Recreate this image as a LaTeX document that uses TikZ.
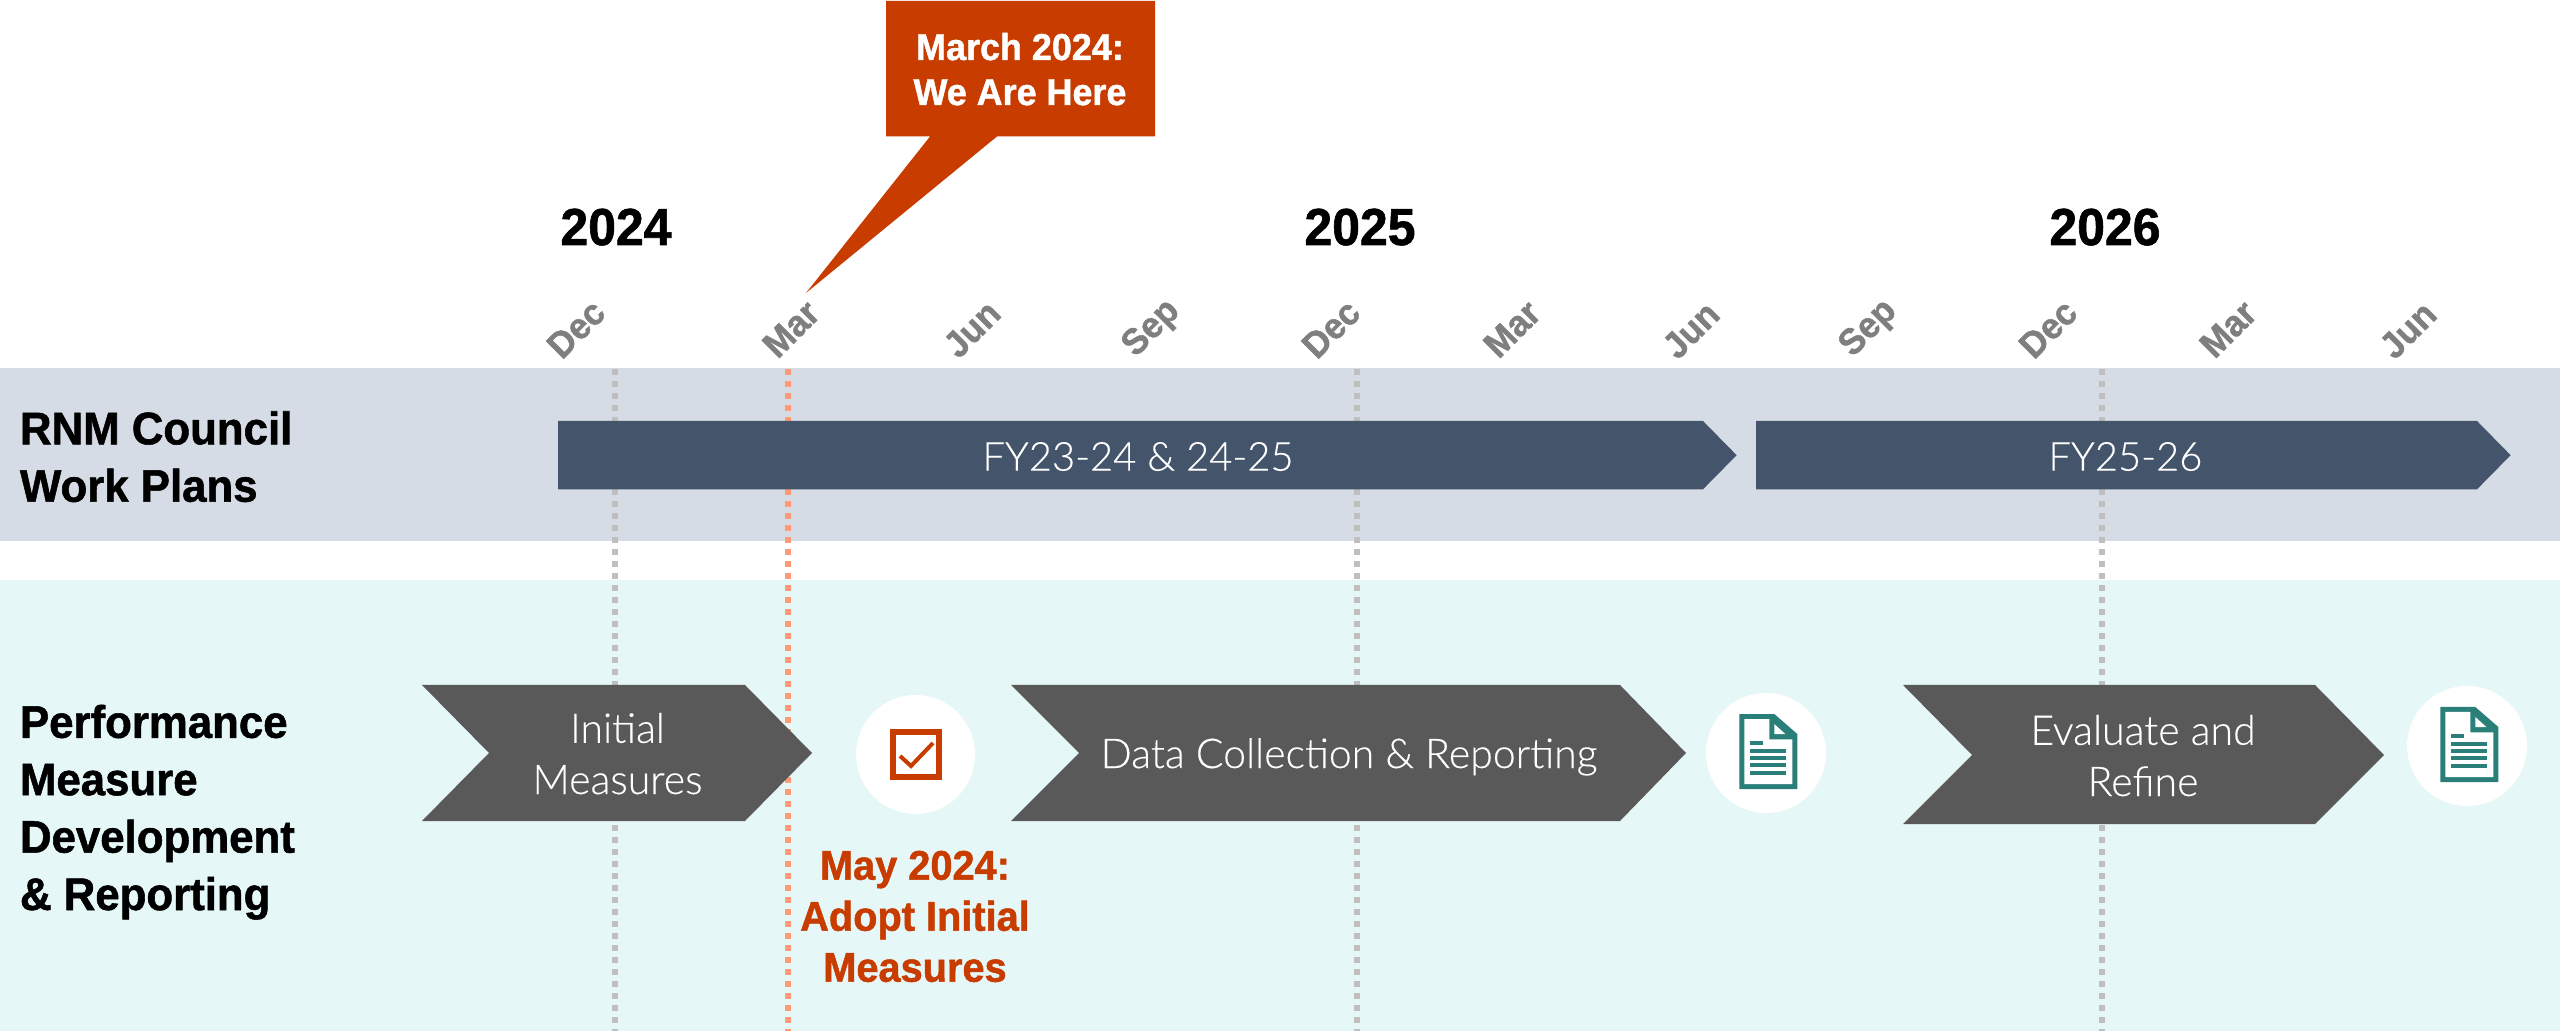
\documentclass[tikz,border=0pt]{standalone}
\usepackage{fontspec}
\setmainfont{Lato}[UprightFont={Lato Light},UprightFeatures={FakeBold=0.25},BoldFont={Lato}]
\newfontfamily\headfam{Liberation Sans}[FakeStretch=0.96,BoldFeatures={FakeStretch=0.96,FakeBold=1.2}]
\definecolor{bandblue}{HTML}{D6DCE5}
\definecolor{bandteal}{HTML}{E5F7F7}
\definecolor{fyblue}{HTML}{44546A}
\definecolor{chevgrey}{HTML}{595959}
\definecolor{rust}{HTML}{C83C00}
\definecolor{icon}{HTML}{2A7F79}
\definecolor{dashgrey}{HTML}{BFBFBF}
\definecolor{dashrust}{HTML}{FF9A75}
\definecolor{monthgrey}{HTML}{7F7F7F}
\tikzset{
  x=0.5pt,y=-0.5pt,
  lbl/.style={inner sep=0pt,outer sep=0pt},
  sectionlbl/.style={lbl,anchor=base west,align=left,font=\headfam\bfseries\fontsize{22.8}{28.7}\selectfont,text=black},
  yearlbl/.style={lbl,anchor=base,font=\headfam\bfseries\fontsize{26}{30}\selectfont,text=black},
  monthlbl/.style={lbl,rotate=45,font=\headfam\bfseries\fontsize{18.2}{20}\selectfont,text=monthgrey},
  bartext/.style={lbl,anchor=base,font=\fontsize{20}{24}\selectfont,text=white},
  chevtext/.style={lbl,anchor=base,align=center,font=\fontsize{20.5}{25.6}\selectfont,text=white},
  guide/.style={line width=2.8pt,dash pattern=on 3pt off 3pt,dash phase=0pt},
  docicon/.pic={
    \fill[icon] (0,0)--(35,0)--(58,20)--(58,75)--(0,75)--cycle;
    \fill[white] (5,5)--(30,5)--(30,25.3)--(53,25.3)--(53,70)--(5,70)--cycle;
    \fill[white] (35,10)--(35,20)--(46,20)--cycle;
    \fill[icon] (10.7,26.7) rectangle (24,30.7);
    \fill[icon] (10.7,34.7) rectangle (46.7,38.7);
    \fill[icon] (10.7,41.7) rectangle (46.7,45.7);
    \fill[icon] (10.7,49.3) rectangle (46.7,53.3);
    \fill[icon] (10.7,56.7) rectangle (46.7,60.7);
  }
}
\begin{document}
\begin{tikzpicture}
\useasboundingbox (0,0) rectangle (2560,1031);
% bands
\fill[bandblue] (0,368) rectangle (2560,541.5);
\fill[bandteal] (0,580.5) rectangle (2560,1031);
% guides
\coordinate (g1t) at (615,369); \coordinate (g1b) at (615,1031);
\coordinate (g2t) at (788,369); \coordinate (g2b) at (788,1031);
\coordinate (g3t) at (1357,369); \coordinate (g3b) at (1357,1031);
\coordinate (g4t) at (2102,369); \coordinate (g4b) at (2102,1031);
\draw[guide,dashgrey] (g1t)--(g1b);
\draw[guide,dashrust] (g2t)--(g2b);
\draw[guide,dashgrey] (g3t)--(g3b);
\draw[guide,dashgrey] (g4t)--(g4b);
% callout
\fill[rust] (886,1)--(1155,1)--(1155,136.5)--(997,136.5)--(806,293)--(930,136.5)--(886,136.5)--cycle;
\node[lbl,anchor=base,align=center,text=white,font=\headfam\bfseries\fontsize{18.7}{22.5}\selectfont] (callout) at (1020,105) {March 2024:\\We Are Here};
% years
\node[yearlbl] (y24) at (616,245) {2024};
\node[yearlbl] (y25) at (1360,245) {2025};
\node[yearlbl] (y26) at (2105,245) {2026};
% months
\node[monthlbl] (m1) at (576,329) {Dec};
\node[monthlbl] (m2) at (791,329) {Mar};
\node[monthlbl] (m3) at (972,329) {Jun};
\node[monthlbl] (m4) at (1152,329) {Sep};
\node[monthlbl] (m5) at (1331,329) {Dec};
\node[monthlbl] (m6) at (1512,329) {Mar};
\node[monthlbl] (m7) at (1691,330) {Jun};
\node[monthlbl] (m8) at (1869,329) {Sep};
\node[monthlbl] (m9) at (2048,329) {Dec};
\node[monthlbl] (m10) at (2228,329) {Mar};
\node[monthlbl] (m11) at (2408,330) {Jun};
% section labels
\node[sectionlbl] (rnm) at (20,501.7) {RNM Council\\Work Plans};
\node[sectionlbl] (perf) at (20,910) {Performance\\Measure\\Development\\\& Reporting};
% FY bars
\fill[fyblue] (558,421)--(1703,421)--(1736.6,455.2)--(1703,489.3)--(558,489.3)--cycle;
\fill[fyblue] (1756,421)--(2477,421)--(2510.6,455.2)--(2477,489.3)--(1756,489.3)--cycle;
\node[bartext] (fy1) at (1138,470.7) {FY23-24 \& 24-25};
\node[bartext] (fy2) at (2125.4,470.7) {FY25-26};
% chevrons
\fill[chevgrey] (422,685)--(745,685)--(812,753)--(745,821)--(422,821)--(489,753)--cycle;
\fill[chevgrey] (1011,685)--(1620,685)--(1686,753)--(1620,821)--(1011,821)--(1079,753)--cycle;
\fill[chevgrey] (1903,685)--(2315,685)--(2384,755)--(2315,824)--(1903,824)--(1972,755)--cycle;
\node[chevtext] (c1) at (617.5,794) {Initial\\Measures};
\node[chevtext] (c2) at (1349,768) {Data Collection \& Reporting};
\node[chevtext] (c3) at (2143,796) {Evaluate and\\Refine};
% check icon
\fill[white] (915.5,754.5) circle[radius=59.5];
\draw[rust,line width=3pt] (893,732) rectangle (939,777);
\draw[rust,line width=2pt] (900,756)--(911,766)--(933,743);
% May label
\node[lbl,anchor=base,align=center,text=rust,font=\headfam\bfseries\fontsize{20.7}{25.5}\selectfont] (may) at (915,981.7) {May 2024:\\Adopt Initial\\Measures};
% documents
\fill[white] (1766,753) circle[radius=60];
\pic at (1739.3,714) {docicon};
\fill[white] (2467,746) circle[radius=60];
\pic at (2440.3,707) {docicon};
\end{tikzpicture}
\end{document}
